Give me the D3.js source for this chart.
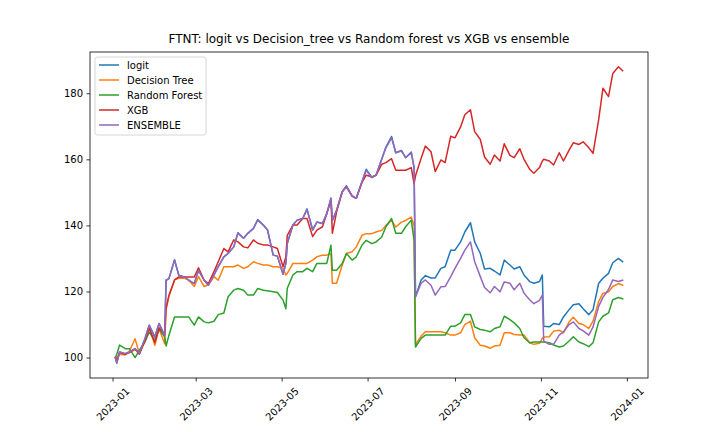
<!DOCTYPE html>
<html lang="en">
<head>
  <meta charset="UTF-8">
  <title>FTNT model comparison</title>
  <script src="https://d3js.org/d3.v7.min.js"></script>
  <style>
    body { margin: 0; background: #fff; }
    svg { display: block; font-family: "DejaVu Sans", sans-serif; }
    .axis text { font: 10px "DejaVu Sans", sans-serif; fill: #000; }
    .axis line { stroke: #000; stroke-width: 0.8; }
    .series { fill: none; stroke-width: 1.5; stroke-linejoin: round; stroke-linecap: square; }
    .legend text { font: 10px "DejaVu Sans", sans-serif; }
  </style>
</head>
<body>
<svg width="720" height="432"></svg>
<script>
  // trading dates (two per week plus the jump days)
  const dates = [
    "2023-01-03","2023-01-04","2023-01-06","2023-01-10","2023-01-13","2023-01-17","2023-01-20","2023-01-24","2023-01-27","2023-01-31",
    "2023-02-03","2023-02-07","2023-02-08","2023-02-10","2023-02-14","2023-02-17","2023-02-21","2023-02-24","2023-02-28","2023-03-03",
    "2023-03-07","2023-03-10","2023-03-14","2023-03-17","2023-03-21","2023-03-24","2023-03-28","2023-03-31","2023-04-04","2023-04-07",
    "2023-04-11","2023-04-14","2023-04-18","2023-04-21","2023-04-25","2023-04-28","2023-05-02","2023-05-04","2023-05-05","2023-05-09",
    "2023-05-12","2023-05-16","2023-05-19","2023-05-23","2023-05-26","2023-05-30","2023-06-02","2023-06-05","2023-06-06","2023-06-09",
    "2023-06-13","2023-06-16","2023-06-20","2023-06-23","2023-06-27","2023-06-30","2023-07-04","2023-07-07","2023-07-11","2023-07-14",
    "2023-07-18","2023-07-21","2023-07-25","2023-07-28","2023-08-01","2023-08-03","2023-08-04","2023-08-08","2023-08-11","2023-08-15",
    "2023-08-18","2023-08-22","2023-08-25","2023-08-29","2023-09-01","2023-09-05","2023-09-08","2023-09-12","2023-09-15","2023-09-19",
    "2023-09-22","2023-09-26","2023-09-29","2023-10-03","2023-10-06","2023-10-10","2023-10-13","2023-10-17","2023-10-20","2023-10-24",
    "2023-10-27","2023-10-31","2023-11-02","2023-11-03","2023-11-07","2023-11-10","2023-11-14","2023-11-17","2023-11-21","2023-11-24",
    "2023-11-28","2023-12-01","2023-12-05","2023-12-08","2023-12-12","2023-12-15","2023-12-19","2023-12-22","2023-12-26","2023-12-29"
  ];

  const logit = [
    100, 98.3, 101.7, 101.2, 101.7, 102.7, 101.2, 105.7, 109.8, 106.2,
    110.3, 106.7, 123.4, 123.9, 129.6, 124.9, 124.4, 123.4, 122.4, 126.4,
    123.4, 121.9, 125, 127.5, 130.5, 131.5, 133.5, 137.8, 136.1, 137.6,
    139.1, 141.8, 140.1, 138.6, 131, 130.7, 125.2, 128.5, 134.5, 140.1,
    141.6, 142.1, 145, 138.6, 141, 140.6, 143.5, 148.3, 141.5, 144.6,
    150.2, 152, 148.9, 148.2, 153.2, 157, 154.5, 155.2, 160, 163.7,
    166.9, 162, 162.7, 160.5, 162.2, 157.5, 118.4, 123.5, 124.8, 124.1,
    124.1, 127, 127.5, 132.5, 132.5, 135, 138, 140.8, 135, 131.5,
    126.8, 127, 126.2, 125, 129.5, 128, 126.8, 127.5, 125, 123,
    122.5, 123, 125, 109.5, 109.3, 110.3, 110, 112.3, 114.5, 116,
    116.3, 114.8, 113, 114.5, 122.5, 124, 125.5, 128.7, 130, 129
  ];

  const decisionTree = [
    100, 100, 101, 100.8, 102, 105.7, 101.2, 105.2, 109.3, 103.7,
    108.7, 104.2, 114.5, 118.5, 123.5, 124, 124, 123.5, 121.5, 124.5,
    121.5, 122, 124.5, 123.4, 127.5, 127.5, 127.5, 128, 127, 127.5,
    129, 128.5, 128, 128, 127.5, 127.5, 127, 125, 125.5, 128.5,
    128.5, 128.5, 128.5, 129.5, 130.5, 131, 131, 131.5, 122.5, 122.5,
    128, 131.5, 132, 133.5, 137, 137.5, 137.5, 138, 138.5, 140,
    141.5, 139.5, 141, 141.5, 142.5, 140, 104, 106.5, 107.8, 107.8,
    107.8, 107.8, 107.5, 106.8, 106.8, 107.5, 110, 111, 106, 103.7,
    103.5, 102.8, 103.5, 103.7, 107.5, 107.5, 107, 106.8, 106.8, 104.5,
    104, 104.3, 105.8, 106.2, 106.3, 108, 108.3, 107.5, 110.8, 112.2,
    110.3, 110, 108.8, 111, 117, 119.4, 119.9, 121.5, 122.4, 121.9
  ];

  const randomForest = [
    100, 101, 103.8, 102.7, 102.7, 100, 102.2, 104.7, 107.7, 105.2,
    108.7, 106.2, 103.5, 106.7, 112.3, 112.3, 112.3, 112.3, 109.8, 112.3,
    110.8, 110.5, 111, 113, 113.5, 118.4, 120.4, 120.9, 120.4, 118.9,
    118.9, 120.9, 120.4, 120.2, 119.9, 119.7, 117.4, 114.8, 121, 125,
    126, 126, 127, 126, 128.5, 128.5, 128.5, 134, 126.4, 126.4,
    128.5, 131.5, 129.5, 130.5, 134, 135.5, 134.5, 135, 136.5, 139.6,
    142.1, 137.6, 137.6, 139.6, 141.6, 135.5, 103.2, 105.8, 106.8, 106.8,
    106.8, 106.8, 106.8, 109.5, 109.5, 110.5, 113, 113, 109.3, 108.5,
    108.3, 107.8, 108.8, 109.3, 112.5, 111.5, 110.5, 108.8, 106, 104.5,
    104.7, 104.7, 104.7, 104.7, 104.5, 103.8, 103.2, 103.5, 105, 106.3,
    104.7, 104.2, 103.3, 104.5, 110.8, 112.5, 113.5, 117.5, 118.2, 117.8
  ];

  const xgb = [
    100, 99, 101.5, 101, 101.5, 102.5, 101, 105, 109, 104.5,
    109, 107, 115, 118.8, 123.5, 124.4, 124.4, 124.4, 124.4, 127.2,
    123.4, 122.4, 126, 129, 133, 132, 135.6, 135, 133.5, 133.2,
    135.6, 134.6, 134.1, 134.1, 133.5, 133, 127.5, 130.5, 137, 140.1,
    140.1, 142.1, 142.1, 136.6, 138.6, 139.6, 143.6, 147.5, 137.6, 144.1,
    150.2, 151.7, 148.9, 148.2, 153, 155.2, 154.7, 155.2, 158.5, 159,
    160.2, 156.7, 156.7, 156.7, 157.5, 152.5, 155, 160.3, 164, 162.3,
    156.3, 159.8, 159, 167, 166.5, 169.8, 173.5, 175, 168.4, 166,
    160.7, 158.5, 161.3, 159.5, 164.7, 161.2, 160.5, 163.2, 160, 157,
    155.8, 157.5, 159.5, 160, 159.5, 158.3, 162, 159.5, 162.8, 165,
    164.5, 165.3, 163.5, 161.8, 172, 181.5, 179, 186, 188, 186.8
  ];

  const ensemble = [
    100, 98.3, 101.7, 101.2, 101.7, 102.7, 101.2, 105.7, 109.8, 106.2,
    110.3, 106.7, 123.4, 123.9, 129.5, 124.9, 124.4, 123.4, 122.4, 126.4,
    123.4, 121.9, 125, 127.5, 130.5, 131.5, 133.5, 137.6, 136.1, 137.6,
    139.1, 141.6, 140.1, 138.6, 131, 130.7, 125.2, 128.5, 134.5, 140.1,
    141.6, 142.1, 144.8, 138.6, 141, 140.6, 143.5, 148, 141.5, 144.6,
    150.2, 151.7, 148.9, 148.2, 153.2, 156.7, 154.5, 155.2, 160, 163.5,
    166.5, 162, 162.5, 160.5, 162, 157.5, 118.4, 122.5, 123.5, 121.9,
    118.9, 121.4, 121.5, 124.5, 127, 130, 132.5, 135, 129, 124.5,
    121.2, 119.6, 121.5, 119.9, 122.9, 122.5, 120.5, 122.5, 119.5, 117.5,
    116.3, 117.3, 118.9, 105, 104, 104, 106.8, 107.8, 110, 110.8,
    108.8, 108.1, 106.8, 109.3, 115.5, 118.2, 120.6, 123.5, 123, 123.4
  ];

  const seriesNames = ["logit", "Decision Tree", "Random Forest", "XGB", "ENSEMBLE"];
  const seriesValues = [logit, decisionTree, randomForest, xgb, ensemble];
  const colors = ["#1f77b4", "#ff7f0e", "#2ca02c", "#d62728", "#9467bd"];
  const yTicks = [100, 120, 140, 160, 180];
  const xTickLabels = ["2023-01", "2023-03", "2023-05", "2023-07", "2023-09", "2023-11", "2024-01"];

  const width = 720;
  const height = 432;
  const margin = {top: 52, right: 72, bottom: 54, left: 90};
  const plotW = width - margin.left - margin.right;
  const plotH = height - margin.top - margin.bottom;

  const parseDate = d3.timeParse("%Y-%m-%d");
  const parseMonth = d3.timeParse("%Y-%m");
  const xDates = dates.map(parseDate);

  const svg = d3.select("svg");
  svg.append("rect").attr("width", width).attr("height", height).attr("fill", "#fff");

  const g = svg.append("g")
      .attr("transform", `translate(${margin.left},${margin.top})`);

  // matplotlib-like 5% margins on both axes
  const [t0, t1] = d3.extent(xDates);
  const tPad = (t1 - t0) * 0.05;
  const x = d3.scaleTime()
      .domain([new Date(+t0 - tPad), new Date(+t1 + tPad)])
      .range([0, plotW]);

  const allVals = seriesValues.flat();
  const [v0, v1] = d3.extent(allVals);
  const vPad = (v1 - v0) * 0.05;
  const y = d3.scaleLinear()
      .domain([v0 - vPad, v1 + vPad])
      .range([plotH, 0]);

  // x axis
  const xAxis = g.append("g")
      .attr("class", "axis")
      .attr("transform", `translate(0,${plotH})`)
      .call(d3.axisBottom(x)
          .tickValues(xTickLabels.map(parseMonth))
          .tickFormat(d3.timeFormat("%Y-%m"))
          .tickSize(3.5)
          .tickSizeOuter(0));
  xAxis.select(".domain").remove();
  xAxis.selectAll("text")
      .attr("y", 0)
      .attr("dy", null)
      .attr("dominant-baseline", "central")
      .attr("text-anchor", "middle")
      .attr("transform", "translate(0,26) rotate(-45)");

  // y axis
  const yAxis = g.append("g")
      .attr("class", "axis")
      .call(d3.axisLeft(y)
          .tickValues(yTicks)
          .tickSize(3.5)
          .tickPadding(3.5)
          .tickSizeOuter(0));
  yAxis.select(".domain").remove();

  // lines
  const line = d3.line()
      .x((d, i) => x(xDates[i]))
      .y(d => y(d));

  seriesValues.forEach((vals, k) => {
    g.append("path")
        .datum(vals)
        .attr("class", "series")
        .attr("stroke", colors[k])
        .attr("d", line);
  });

  // frame
  g.append("rect")
      .attr("width", plotW)
      .attr("height", plotH)
      .attr("fill", "none")
      .attr("stroke", "#000")
      .attr("stroke-width", 0.8);

  // title
  svg.append("text")
      .attr("x", margin.left + plotW / 2)
      .attr("y", margin.top - 9)
      .attr("text-anchor", "middle")
      .style("font", "12px 'DejaVu Sans', sans-serif")
      .text("FTNT: logit vs Decision_tree vs Random forest vs XGB vs ensemble");

  // legend
  const legend = g.append("g")
      .attr("class", "legend")
      .attr("transform", "translate(5,5)");

  legend.append("rect")
      .attr("width", 111)
      .attr("height", 78)
      .attr("rx", 2.5)
      .attr("fill", "#fff")
      .attr("fill-opacity", 0.8)
      .attr("stroke", "#cccccc")
      .attr("stroke-width", 0.8);

  seriesNames.forEach((name, k) => {
    const row = legend.append("g")
        .attr("transform", `translate(0,${8 + k * 15})`);
    row.append("line")
        .attr("x1", 4).attr("x2", 24)
        .attr("y1", 0).attr("y2", 0)
        .attr("stroke", colors[k])
        .attr("stroke-width", 1.5);
    row.append("text")
        .attr("x", 32)
        .attr("y", 0)
        .attr("dominant-baseline", "central")
        .text(name);
  });
</script>
</body>
</html>
